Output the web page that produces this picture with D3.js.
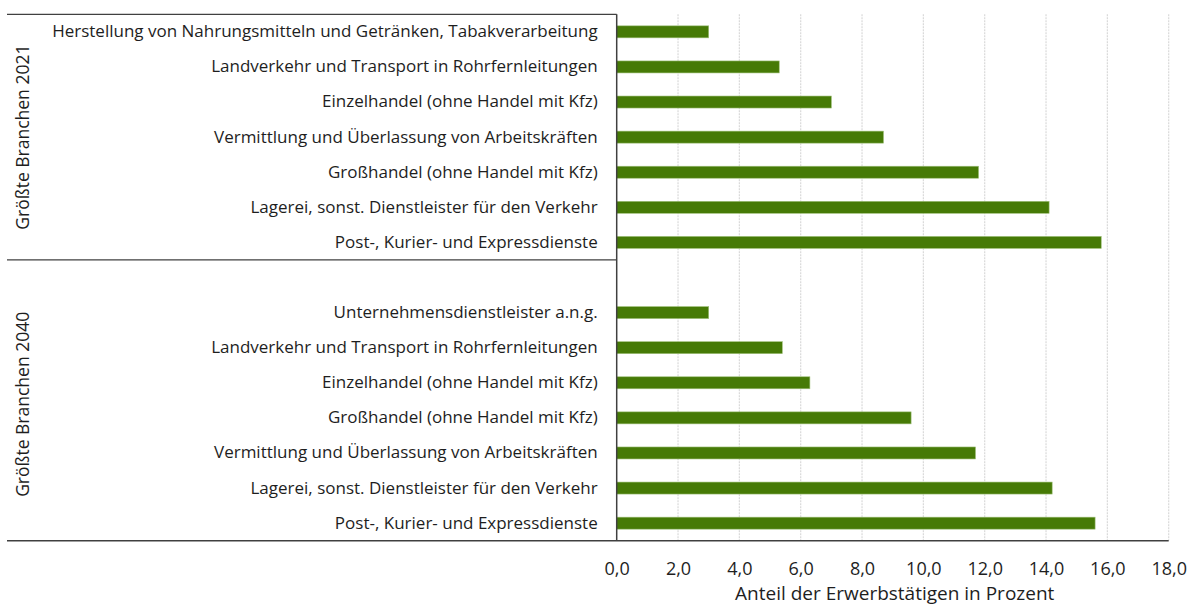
<!DOCTYPE html>
<html>
<head>
<meta charset="utf-8">
<script src="https://cdn.jsdelivr.net/npm/d3@7"></script>
<style>
  html, body { margin: 0; padding: 0; background: #fff; }
  svg { display: block; }
  text { font-family: "Open Sans", Lato, sans-serif; fill: #1e1e1e; }
</style>
</head>
<body>
<svg id="chart" width="1192" height="605"></svg>
<script>
// ---- data ----
const groupLabels = ["Größte Branchen 2021", "Größte Branchen 2040"];
const labels2021 = [
  "Herstellung von Nahrungsmitteln und Getränken, Tabakverarbeitung",
  "Landverkehr und Transport in Rohrfernleitungen",
  "Einzelhandel (ohne Handel mit Kfz)",
  "Vermittlung und Überlassung von Arbeitskräften",
  "Großhandel (ohne Handel mit Kfz)",
  "Lagerei, sonst. Dienstleister für den Verkehr",
  "Post-, Kurier- und Expressdienste"
];
const values2021 = [3.0, 5.3, 7.0, 8.7, 11.8, 14.1, 15.8];
const labels2040 = [
  "Unternehmensdienstleister a.n.g.",
  "Landverkehr und Transport in Rohrfernleitungen",
  "Einzelhandel (ohne Handel mit Kfz)",
  "Großhandel (ohne Handel mit Kfz)",
  "Vermittlung und Überlassung von Arbeitskräften",
  "Lagerei, sonst. Dienstleister für den Verkehr",
  "Post-, Kurier- und Expressdienste"
];
const values2040 = [3.0, 5.4, 6.3, 9.6, 11.7, 14.2, 15.6];
const xTicks = [0, 2, 4, 6, 8, 10, 12, 14, 16, 18];
const xTitle = "Anteil der Erwerbstätigen in Prozent";

(function () {
// ---- build rows ----
const rows = [];
labels2021.forEach((l, i) => rows.push({ key: "a" + i, label: l, value: values2021[i] }));
rows.push({ key: "gap", label: "", value: null });
labels2040.forEach((l, i) => rows.push({ key: "b" + i, label: l, value: values2040[i] }));

const svg = d3.select("#chart");
const pLeft = 616.7, pRight = 1168.7, pTop = 14.3, pBottom = 540.7, frameLeft = 7;
const font = "'Open Sans', Lato, sans-serif";

const x = d3.scaleLinear().domain([0, 18]).range([pLeft, pRight]);
const y = d3.scaleBand().domain(rows.map(r => r.key)).range([pTop, pBottom])
  .paddingInner(0.658).paddingOuter(0.329);

const fmt = v => d3.format(".1f")(v).replace(".", ",");

// gridlines
svg.append("g").selectAll("line").data(xTicks.filter(t => t > 0)).join("line")
  .attr("x1", d => x(d)).attr("x2", d => x(d))
  .attr("y1", pTop).attr("y2", pBottom)
  .attr("stroke", "#d9d9d9").attr("stroke-width", 1.2)
  .attr("stroke-dasharray", "2,1");

// bars
svg.append("g").selectAll("rect").data(rows.filter(r => r.value != null)).join("rect")
  .attr("x", x(0)).attr("y", d => y(d.key))
  .attr("width", d => x(d.value) - x(0)).attr("height", y.bandwidth())
  .attr("fill", "#467a06").attr("stroke", "#9fc07a").attr("stroke-width", 0.6);

// x axis
const xAxis = d3.axisBottom(x).tickValues(xTicks).tickFormat(fmt).tickSize(0).tickPadding(22);
const gx = svg.append("g").attr("transform", `translate(0,${pBottom})`).call(xAxis);
gx.select(".domain").remove();
gx.selectAll("text").attr("font-size", 18).attr("font-family", font).attr("fill", "#1e1e1e");

// y axis labels
const yAxis = d3.axisLeft(y).tickFormat(k => rows.find(r => r.key === k).label).tickSize(0).tickPadding(19);
const gy = svg.append("g").attr("transform", `translate(${pLeft},0)`).call(yAxis);
gy.select(".domain").remove();
gy.selectAll("text").attr("font-size", 17).attr("font-family", font).attr("fill", "#1e1e1e");

// frame lines
const lineColor = "#404040";
const sepLine = y.step() * 7 + pTop;
svg.append("line").attr("x1", frameLeft).attr("x2", pLeft).attr("y1", pTop).attr("y2", pTop)
  .attr("stroke", lineColor).attr("stroke-width", 1.2);
svg.append("line").attr("x1", frameLeft).attr("x2", pLeft).attr("y1", sepLine).attr("y2", sepLine)
  .attr("stroke", lineColor).attr("stroke-width", 1.2);
svg.append("line").attr("x1", frameLeft).attr("x2", pRight).attr("y1", pBottom).attr("y2", pBottom)
  .attr("stroke", lineColor).attr("stroke-width", 1.5);
svg.append("line").attr("x1", pLeft).attr("x2", pLeft).attr("y1", pTop).attr("y2", pBottom)
  .attr("stroke", lineColor).attr("stroke-width", 1.5);

// group labels
const groupCenters = [(pTop + sepLine) / 2, (sepLine + pBottom) / 2 + 4];
svg.append("g").selectAll("text").data(groupLabels).join("text")
  .attr("transform", (d, i) => `translate(22,${groupCenters[i]}) rotate(-90)`)
  .attr("text-anchor", "middle").attr("dominant-baseline", "central")
  .attr("font-size", 17.5).text(d => d);

// x title
svg.append("text").attr("x", (pLeft + pRight) / 2 + 2).attr("y", 600)
  .attr("text-anchor", "middle").attr("font-size", 19).text(xTitle);
})();
</script>
</body>
</html>
